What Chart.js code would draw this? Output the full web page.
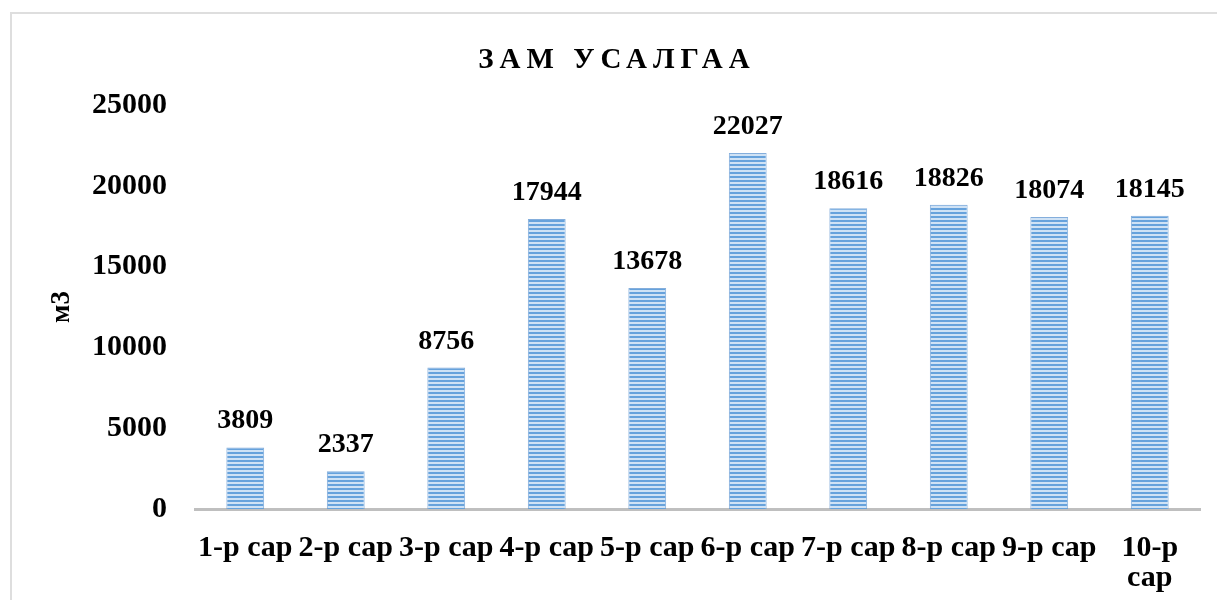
<!DOCTYPE html>
<html>
<head>
<meta charset="utf-8">
<script src="https://cdn.jsdelivr.net/npm/chart.js@4.4.0/dist/chart.umd.min.js"></script>
<style>
body { margin: 0; background: #fff; }
#wrap { position: relative; width: 1217px; height: 600px; overflow: hidden; }
#frame { position: absolute; left: 10px; top: 12px; width: 1300px; height: 700px; border: 2px solid #dedede; }
canvas { position: absolute; left: 0; top: 0; }
</style>
</head>
<body>
<div id="wrap">
<div id="frame"></div>
<canvas id="chart" width="1217" height="600"></canvas>
</div>
<script>
// Data
const months = ['1-р сар', '2-р сар', '3-р сар', '4-р сар', '5-р сар', '6-р сар', '7-р сар', '8-р сар', '9-р сар', ['10-р', 'сар']];
const usage = [3809, 2337, 8756, 17944, 13678, 22027, 18616, 18826, 18074, 18145];
const yTicks = [0, 5000, 10000, 15000, 20000, 25000];
const chartTitle = 'ЗАМ УСАЛГАА';
const yTitle = 'м3';

const FONT = '"Liberation Serif", "Times New Roman", serif';

// striped fill like the original
function makeStripes() {
const c = document.createElement('canvas');
c.width = 8; c.height = 4;
const g = c.getContext('2d');
g.fillStyle = '#cfe2f5';
g.fillRect(0, 0, 8, 4);
g.fillStyle = '#66a2dc';
g.fillRect(0, 0, 8, 2);
return g.createPattern(c, 'repeat');
}

// value labels above bars + spaced title
const labelPlugin = {
id: 'labels',
afterDatasetsDraw(chart) {
const ctx = chart.ctx;
const meta = chart.getDatasetMeta(0);
ctx.save();
ctx.fillStyle = '#000';
ctx.font = 'bold 28px ' + FONT;
ctx.textAlign = 'center';
ctx.textBaseline = 'alphabetic';
meta.data.forEach((bar, i) => {
ctx.fillText(String(usage[i]), bar.x, bar.y - 19);
});
ctx.restore();
},
afterDraw(chart) {
const ctx = chart.ctx;
ctx.save();
ctx.fillStyle = '#000';
ctx.font = 'bold 29px ' + FONT;
ctx.letterSpacing = '6px';
ctx.textAlign = 'center';
ctx.textBaseline = 'middle';
ctx.fillText(chartTitle, 617, 61);
ctx.restore();
}
};

const ctx = document.getElementById('chart').getContext('2d');
new Chart(ctx, {
type: 'bar',
data: {
labels: months,
datasets: [{
    data: usage,
    backgroundColor: makeStripes(),
    borderColor: 'rgba(80,140,205,0.7)',
    borderWidth: 1,
    barPercentage: 0.47,
    categoryPercentage: 0.8
}]
},
options: {
responsive: false,
animation: false,
layout: { padding: { top: 105, right: 17, left: 0, bottom: 0 } },
plugins: {
legend: { display: false },
tooltip: { enabled: false }
},
scales: {
x: {
    grid: { display: false, drawTicks: false },
    border: { display: true, color: '#bfbfbf', width: 3 },
    ticks: {
    color: '#000',
    font: { family: FONT, size: 30, weight: 'bold', lineHeight: 1.0 },
    padding: 24,
    maxRotation: 0,
    autoSkip: false
    },
    afterFit(scale) { scale.height = 91; }
},
y: {
    min: 0,
    max: 25000,
    afterBuildTicks(scale) { scale.ticks = yTicks.map(v => ({ value: v })); },
    grid: { display: false, drawTicks: false },
    border: { display: false },
    ticks: {
    color: '#000',
    font: { family: FONT, size: 30, weight: 'bold' },
    padding: 28,
    callback: v => String(v)
    },
    title: {
    display: true,
    text: yTitle,
    color: '#000',
    font: { family: FONT, size: 27, weight: 'bold' },
    padding: { top: 46, bottom: 0 }
    },
    afterFit(scale) { scale.width = 195; }
}
}
},
plugins: [labelPlugin]
});
</script>
</body>
</html>
